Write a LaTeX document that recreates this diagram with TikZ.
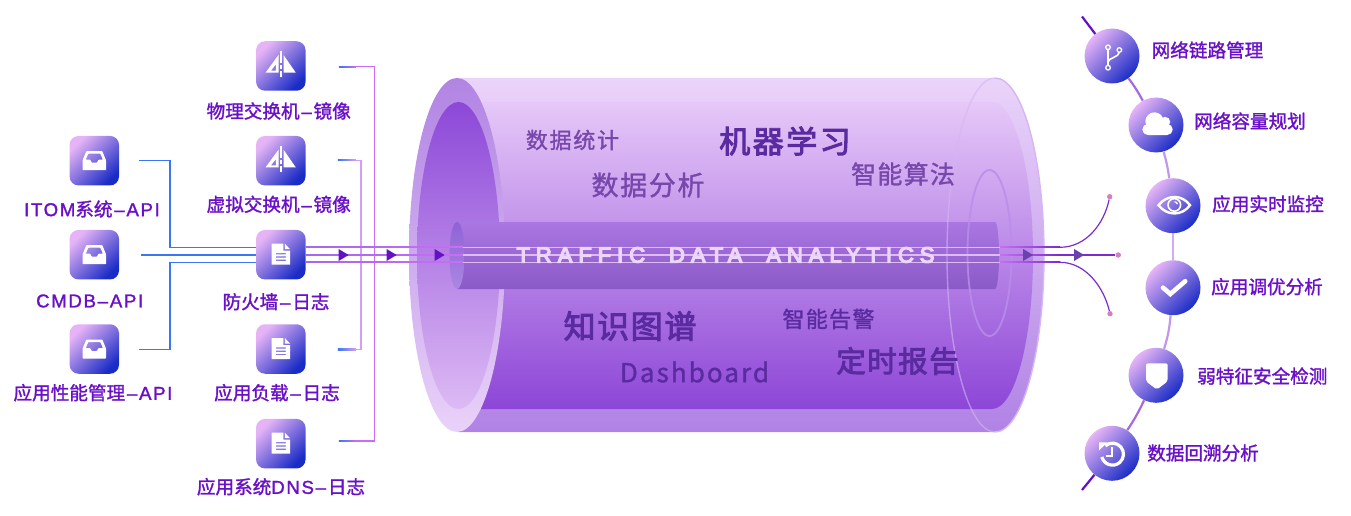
\documentclass[tikz,border=0pt]{standalone}
\usepackage{fontspec}
\usetikzlibrary{shapes.geometric}
\setmainfont{Noto Sans CJK SC}
\newfontfamily\labelfont[FakeBold=1.5]{Noto Sans CJK SC}
\newfontfamily\latinfont[FakeBold=1.5,LetterSpace=9]{Liberation Sans}
\newfontfamily\softfont[FakeBold=1.3]{Noto Sans CJK SC}
\newfontfamily\heavyfont[FakeBold=3]{Noto Sans CJK SC}
\newfontfamily\bannerfont[FakeBold=6,LetterSpace=27]{Liberation Sans}
\newcommand{\lat}[1]{{\latinfont #1}}
\newcommand{\dashmark}{\hspace{1.8pt}{\latinfont –}\hspace{1.8pt}}
\definecolor{tilepink}{HTML}{E6B4F6}
\definecolor{tilemid}{HTML}{7F6ADF}
\definecolor{tileblue}{HTML}{1A2CC6}
\definecolor{labelpurple}{HTML}{6A10C8}
\definecolor{linkblue}{HTML}{3A76F4}
\definecolor{linkpink}{HTML}{CC6CF6}
\definecolor{linklight}{HTML}{D49EF6}
\definecolor{linkstart}{HTML}{A468EC}
\definecolor{pipeline}{HTML}{DDBBF6}
\definecolor{fanpurple}{HTML}{7A2CCE}
\definecolor{textdeep}{HTML}{5A2BA0}
\definecolor{textsoft}{HTML}{7747AC}
\definecolor{headdark}{HTML}{6410C6}
\definecolor{headsoft}{HTML}{6A42B0}
\definecolor{dotpink}{HTML}{D27FC4}
\definecolor{shellTop}{HTML}{EBD4FA}
\definecolor{shellEnd}{HTML}{B082E5}
\definecolor{boreTop}{HTML}{E6C8F8}
\definecolor{boreEnd}{HTML}{8D46D7}
\definecolor{rimTop}{HTML}{B184E3}
\definecolor{rimEnd}{HTML}{E9D2F9}
\definecolor{holeTop}{HTML}{8C48D8}
\definecolor{holeEnd}{HTML}{DDBAF4}
\definecolor{coreTop}{HTML}{AA76E2}
\definecolor{coreEnd}{HTML}{8A5AC6}
\definecolor{mouthTop}{HTML}{8F62D6}
\definecolor{mouthEnd}{HTML}{AA87E4}
\definecolor{ghostline}{HTML}{D4B6F2}
\definecolor{ringline}{HTML}{B98DEB}
\definecolor{bannertext}{HTML}{ECD6FB}
\definecolor{arcA}{HTML}{A569E1}
\definecolor{arcB}{HTML}{C396EE}
\definecolor{arcC}{HTML}{D4AAF4}
\tikzset{
    tile/.style={ % Rounded icon box
        rounded corners=9pt,
        minimum size=49.5pt,
        inner sep=0pt,
        top color=tilepink,
        middle color=tilemid,
        bottom color=tileblue,
        shading angle=45
    },
    badge/.style={ % Round icon on the arc
        circle,
        minimum size=55pt,
        inner sep=0pt,
        top color=tilepink,
        middle color=tilemid,
        bottom color=tileblue,
        shading angle=45
    },
    tilelabel/.style={
        text=labelpurple,
        inner sep=0pt,
        font=\fontsize{18.6}{20}\labelfont
    },
    badgelabel/.style={
        tilelabel,
        anchor=west
    },
    softword/.style={text=textsoft,inner sep=0pt},
    deepword/.style={text=textdeep,inner sep=0pt},
    flowhead/.style={
        isosceles triangle,
        isosceles triangle apex angle=62,
        minimum height=10pt,
        minimum width=11pt,
        inner sep=0pt,
        fill=headdark
    },
    tipdot/.style={circle,fill=dotpink,minimum size=5.4pt,inner sep=0pt},
    bluelink/.style={draw=linkblue,line width=1.4pt},
    tapA/.style={draw=linkpink,line width=1.3pt},
    tapB/.style={draw=linklight,line width=1.3pt},
    fanline/.style={draw=fanpurple,line width=1.2pt},
    arcline/.style={line width=2.2pt},
    pics/inboxicon/.style={code={
        \fill[white,even odd rule,rounded corners=.6pt]
            (-8,-9.5) -- (8,-9.5) -- (11.7,-.5) -- (11.7,9.5) -- (-11.7,9.5) -- (-11.7,-.5) -- cycle
            (-6,-7) -- (6,-7) -- (8.6,-1) -- (4.2,-1) -- (2.6,2) -- (-2.6,2) -- (-4.2,-1) -- (-8.6,-1) -- cycle;
    }},
    pics/docicon/.style={code={
        \fill[white,even odd rule]
            (-9.3,-11) -- (2.5,-11) -- (2.5,-4) -- (9.3,-4) -- (9.3,10) -- (-9.3,10) -- cycle
            (-5,-1.6) rectangle (5,-.4)
            (-5,1.7) rectangle (5,2.9)
            (-5,5) rectangle (5,6.2);
        \fill[white] (4,-11) -- (9.3,-5.5) -- (4,-5.5) -- cycle;
    }},
    pics/mirroricon/.style={code={
        \fill[white,even odd rule]
            (-2.3,-11) -- (-15.3,6.7) -- (-2.3,6.7) -- cycle
            (-5,-1.5) -- (-10,4.7) -- (-5,4.7) -- cycle;
        \fill[white] (2.7,-11) -- (15,6.7) -- (2.7,6.7) -- cycle;
        \fill[white] (-1,-14.7) rectangle (1,-3);
        \fill[white] (-1,-1) rectangle (1,3);
        \fill[white] (-1,5) rectangle (1,11.5);
    }}
}
\begin{document}
\begin{tikzpicture}[x=1pt,y=-1pt]
\useasboundingbox (0,0) rectangle (1351,516);
%%%%%%%%%%%%%%%%%%%%%%%%%%%%%%%%%%
% pipe
\shade[top color=shellTop,bottom color=shellEnd]
    (458,78) -- (995,78) arc[start angle=90,end angle=-90,x radius=49pt,y radius=177pt] -- (458,432) -- cycle;
\shade[top color=boreTop,bottom color=boreEnd]
    (458,102) -- (992,102) arc[start angle=90,end angle=-90,x radius=41pt,y radius=153.5pt] -- (458,409) -- cycle;
\shade[top color=rimTop,bottom color=rimEnd]
    (457,255) ellipse [x radius=48pt,y radius=177pt];
\shade[top color=holeTop,bottom color=holeEnd]
    (458.5,255.5) ellipse [x radius=41.5pt,y radius=153.5pt];
\shade[top color=coreTop,bottom color=coreEnd]
    (458,222) -- (995,222) arc[start angle=90,end angle=-90,x radius=4pt,y radius=33.5pt] -- (458,289) -- cycle;
\shade[top color=mouthTop,bottom color=mouthEnd]
    (457,255.5) ellipse [x radius=7.5pt,y radius=33.5pt];
\draw[ghostline,line width=1.4pt,opacity=.6]
    (995,78) arc[start angle=90,end angle=270,x radius=48pt,y radius=177pt];
\draw[ghostline,line width=1.4pt]
    (995,78) arc[start angle=90,end angle=-90,x radius=49pt,y radius=177pt];
\draw[ringline,line width=1.8pt,opacity=.85]
    (989.5,253) ellipse [x radius=22pt,y radius=83pt];
%%%%%%%%%%%%%%%%%%%%%%%%%%%%%%%%%%
\node [tile] (src1) at (94.3,160.7) {};
\node [tile] (src2) at (94.3,254.7) {};
\node [tile] (src3) at (94.3,349) {};
\node [tile] (tap1) at (280.8,66) {};
\node [tile] (tap2) at (280.8,160.7) {};
\node [tile] (tap4) at (280.8,349) {};
\node [tile] (tap5) at (280.8,443.7) {};
\coordinate (knee1) at (170,160.3);
\coordinate (knee3) at (170,349.5);
\coordinate (flowA) at (170,247.3);
\coordinate (flowC) at (170,262.3);
\coordinate (intoA) at (463,247.3);
\coordinate (intoB) at (463,255);
\coordinate (intoC) at (463,262.3);
\coordinate (exitA) at (1000,247.3);
\coordinate (exitB) at (1000,255);
\coordinate (exitC) at (1000,262.3);
\coordinate (fanA) at (1060,247.3);
\coordinate (fanB) at (1060,255);
\coordinate (fanC) at (1060,262.3);
\coordinate (railA) at (374.5,66.7);
\coordinate (railB) at (374.5,441);
\coordinate (railC) at (361,160.3);
\coordinate (railD) at (361,349.5);

\draw[tapA] ([xshift=33pt]tap1.east |- railA) -- (railA) -- (railB) -- ([xshift=33pt]tap5.east |- railB);
\draw[tapB] ([xshift=32pt]tap2.east |- railC) -- (railC) -- (railD) -- ([xshift=32pt]tap4.east |- railD);
\shade[left color=linkblue,right color=linkpink] ([xshift=33pt,yshift=-.65pt]tap1.east |- railA) rectangle ([xshift=50pt,yshift=.65pt]tap1.east |- railA);
\shade[left color=linkblue,right color=linkpink] ([xshift=33pt,yshift=-.65pt]tap5.east |- railB) rectangle ([xshift=50pt,yshift=.65pt]tap5.east |- railB);
\shade[left color=linkblue,right color=linklight] ([xshift=32pt,yshift=-.65pt]tap2.east |- railC) rectangle ([xshift=50pt,yshift=.65pt]tap2.east |- railC);
\shade[left color=linkblue,right color=linklight] ([xshift=32pt,yshift=-.65pt]tap4.east |- railD) rectangle ([xshift=50pt,yshift=.65pt]tap4.east |- railD);

\draw[bluelink] ([xshift=20pt]src1.east |- knee1) -- (knee1) -- (flowA) -- (280.8,247.3);
\draw[bluelink] ([xshift=22pt]src2.east |- intoB) -- (280.8,255);
\draw[bluelink] ([xshift=20pt]src3.east |- knee3) -- (knee3) -- (flowC) -- (280.8,262.3);
\node [tile] (tap3) at (280.8,254.7) {};
\shade[left color=linkstart,right color=linkpink] ([yshift=-.6pt]tap3.east |- intoA) rectangle ([yshift=.6pt]intoA);
\shade[left color=linkstart,right color=linkpink] ([yshift=-.6pt]tap3.east |- intoB) rectangle ([yshift=.6pt]intoB);
\shade[left color=linkstart,right color=linkpink] ([yshift=-.6pt]tap3.east |- intoC) rectangle ([yshift=.6pt]intoC);
\draw[pipeline,line width=1.4pt]
    (intoA) edge (exitA)
    (intoB) edge (exitB)
    (intoC) edge (exitC);
\shade[left color=linkpink,right color=fanpurple] ([yshift=-.65pt]exitA) rectangle ([yshift=.65pt]fanA);
\shade[left color=linkpink,right color=fanpurple] ([yshift=-.65pt]exitB) rectangle ([yshift=.65pt]fanB);
\shade[left color=linkpink,right color=fanpurple] ([yshift=-.65pt]exitC) rectangle ([yshift=.65pt]fanC);
\node [tipdot] (tipA) at (1109.7,196.7) {};
\node [tipdot] (tipB) at (1118.3,255) {};
\node [tipdot] (tipC) at (1110,313.7) {};
\draw[fanline] (fanA) .. controls (1086,247.3) and (1104,224) .. (tipA);
\draw[fanline] (fanB) -- (tipB);
\draw[fanline] (fanC) .. controls (1086,262.3) and (1104,288) .. (tipC);

\node [flowhead] (head1) at (342,255) {};
\node [flowhead] (head2) at (390,255) {};
\node [flowhead] (head3) at (438,255) {};
\node [flowhead,fill=headsoft] (head4) at (1026.5,255) {};
\node [flowhead,fill=headsoft] (head5) at (1077.5,255) {};
%%%%%%%%%%%%%%%%%%%%%%%%%%%%%%%%%%
\pic at (src1) {inboxicon};
\pic at (src2) {inboxicon};
\pic at (src3) {inboxicon};
\pic at (tap1) {mirroricon};
\pic at (tap2) {mirroricon};
\pic at (tap3) {docicon};
\pic at (tap4) {docicon};
\pic at (tap5) {docicon};

\node [tilelabel] (src1text) at (92,209) {\lat{ITOM}系统\dashmark\lat{API}};
\node [tilelabel] (src2text) at (89.7,301) {\lat{CMDB}\dashmark\lat{API}};
\node [tilelabel] (src3text) at (93,392.7) {应用性能管理\dashmark\lat{API}};
\node [tilelabel] (tap1text) at (278.7,111) {物理交换机\dashmark 镜像};
\node [tilelabel] (tap2text) at (278.7,204.3) {虚拟交换机\dashmark 镜像};
\node [tilelabel] (tap3text) at (276,301.7) {防火墙\dashmark 日志};
\node [tilelabel] (tap4text) at (277,392.7) {应用负载\dashmark 日志};
\node [tilelabel] (tap5text) at (281,486.7) {应用系统\lat{DNS}\dashmark 日志};
%%%%%%%%%%%%%%%%%%%%%%%%%%%%%%%%%%
\node [softword,font=\fontsize{22}{24}\softfont\addfontfeature{LetterSpace=8}] (word1) at (572.5,140) {数据统计};
\node [deepword,font=\fontsize{31}{34}\heavyfont\addfontfeature{LetterSpace=8}] (word2) at (785,141) {机器学习};
\node [softword,font=\fontsize{27}{30}\softfont\addfontfeature{LetterSpace=6}] (word3) at (648,185) {数据分析};
\node [softword,font=\fontsize{25}{27}\softfont\addfontfeature{LetterSpace=5}] (word4) at (903,174) {智能算法};
\node [deepword,font=\fontsize{32}{34}\heavyfont\addfontfeature{LetterSpace=5}] (word5) at (630,326) {知识图谱};
\node [deepword,font=\fontsize{22}{24}\softfont\addfontfeature{LetterSpace=6}] (word6) at (828.5,319) {智能告警};
\node [deepword,font=\fontsize{26}{28}\softfont\addfontfeature{LetterSpace=8}] (word7) at (694.5,372) {Dashboard};
\node [deepword,font=\fontsize{29.5}{32}\heavyfont\addfontfeature{LetterSpace=5}] (word8) at (897.5,361) {定时报告};
\node [text=bannertext,inner sep=0pt,font=\fontsize{22}{24}\bannerfont] (banner) at (725.5,255) {TRAFFIC\hspace{24pt}DATA\hspace{24pt}ANALYTICS};
%%%%%%%%%%%%%%%%%%%%%%%%%%%%%%%%%%
\node [badge] (badge1) at (1112,56) {};
\node [badge] (badge2) at (1156,125) {};
\node [badge] (badge3) at (1173,205.7) {};
\node [badge] (badge4) at (1173,287.7) {};
\node [badge] (badge5) at (1156,375.3) {};
\node [badge] (badge6) at (1112,453.3) {};
\coordinate (arcTop) at (1082,16.5);
\coordinate (arcEnd) at (1082,490);

\draw[arcline,draw=headdark] (arcTop) -- (badge1);
\draw[arcline,draw=arcA] (badge1) to[bend left=4] (badge2);
\draw[arcline,draw=arcB] (badge2) to[bend left=4] (badge3);
\draw[arcline,draw=arcC] (badge3) -- (badge4);
\draw[arcline,draw=arcB] (badge4) to[bend left=6] (badge5);
\draw[arcline,draw=arcA] (badge5) to[bend left=4] (badge6);
\draw[arcline,draw=headdark] (badge6) -- (arcEnd);

\begin{scope}[shift={(badge1)}]
\draw[white,line width=1.6pt] (-4,-6.4) -- (-4,9.4) (7.3,-3.7) .. controls (7.3,1) and (-4,2) .. (-4,6);
\draw[white,line width=1.3pt] (-4,-8.7) circle (2.3pt) (7.3,-6) circle (2.3pt) (-4,11.7) circle (2.3pt);
\end{scope}
\begin{scope}[shift={(badge2)}]
\fill[white,rounded corners=5.5pt] (-13.7,-1) rectangle (16.7,10);
\fill[white] (-1.5,-3.5) circle (9.2pt) (9,-3) circle (5.2pt);
\end{scope}
\begin{scope}[shift={(badge3)}]
\draw[white,line width=2.4pt] (-14.5,-.5) .. controls (-6,-11.5) and (9,-11.5) .. (17,-.5) .. controls (9,10.5) and (-6,10.5) .. (-14.5,-.5) -- cycle;
\draw[white,line width=1.6pt] (1.3,-.8) circle (6.3pt);
\draw[white,line width=1.2pt] (1.5,-4) .. controls (3,-4) and (4.2,-3) .. (4.4,-1.5);
\end{scope}
\begin{scope}[shift={(badge4)}]
\draw[white,line width=4.6pt,line cap=round] (-10,0) -- (-2.7,6.3) -- (12.2,-6.5);
\end{scope}
\begin{scope}[shift={(badge5)}]
\fill[white,rounded corners=2pt] (-10,-12) -- (11.7,-12) -- (11.7,6) -- (.8,14.3) -- (-10,6) -- cycle;
\end{scope}
\begin{scope}[shift={(badge6)}]
\draw[white,line width=3.2pt] (-6.6,-7.6) arc[start angle=130,end angle=-165,radius=11pt];
\fill[white] (-13,-11) -- (-4.5,-11) -- (-13,-3) -- cycle;
\draw[white,line width=2.2pt] (0,-6) -- (0,3) -- (-6,3);
\end{scope}

\node [badgelabel] (badge1text) at (1151.5,50) {网络链路管理};
\node [badgelabel] (badge2text) at (1194,121) {网络容量规划};
\node [badgelabel] (badge3text) at (1212,204) {应用实时监控};
\node [badgelabel] (badge4text) at (1211,286.7) {应用调优分析};
\node [badgelabel] (badge5text) at (1197,376) {弱特征安全检测};
\node [badgelabel] (badge6text) at (1147,453) {数据回溯分析};
\end{tikzpicture}
\end{document}
